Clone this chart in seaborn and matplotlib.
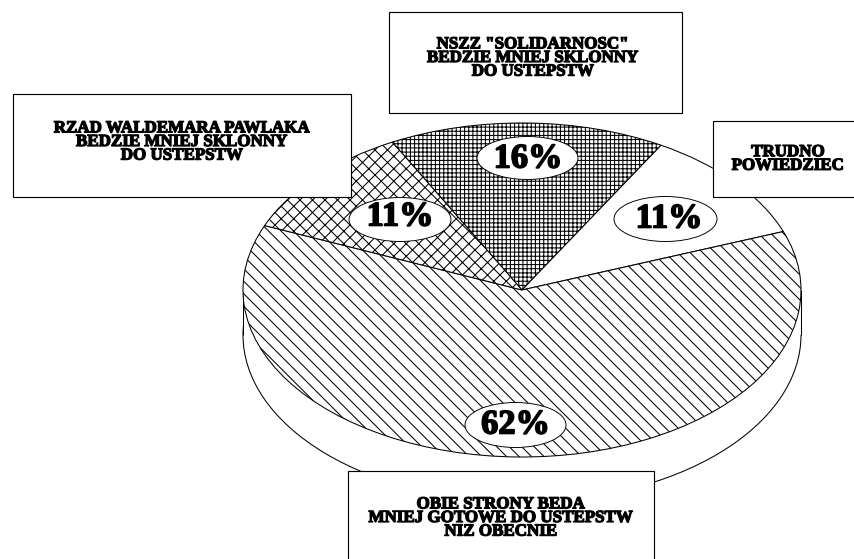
import matplotlib
matplotlib.use("Agg")
import matplotlib.pyplot as plt
import matplotlib.patheffects as pe
from matplotlib.patches import Ellipse, Rectangle
import seaborn as sns

# slices, clockwise from the top left edge
shares = [16, 11, 62, 11]
share_labels = ["16%", "11%", "62%", "11%"]
hatches = ["+++", "", "\\\\", "xx"]

box_labels = [
    'NSZZ "SOLIDARNOSC"\nBEDZIE MNIEJ SKLONNY\nDO USTEPSTW',
    "TRUDNO\nPOWIEDZIEC",
    "OBIE STRONY BEDA\nMNIEJ GOTOWE DO USTEPSTW\nNIZ OBECNIE",
    "RZAD WALDEMARA PAWLAKA\nBEDZIE MNIEJ SKLONNY\nDO USTEPSTW",
]

# layout in pixels of the 854x559 picture
W, H = 854, 559
DPI = 75
cx, cy, rx, ry, depth = 522, 290, 279, 167, 45
boxes = [(389, 12, 293, 101), (713, 121, 150, 76), (348, 471, 306, 100), (13, 94, 338, 103)]
text_xy = [(533, 58), (788, 159), (501, 518), (182, 142)]
ovals = [(527.5, 158, 101, 43), (665.5, 219, 103, 45), (515.5, 425, 101, 45), (400, 219.5, 102, 44)]
pct_xy = [(528, 159), (669, 219), (515.5, 425), (400, 217)]

sns.set_theme(style="white", rc={"hatch.linewidth": 1.0})
plt.rcParams["font.family"] = ["Liberation Serif", "DejaVu Serif"]

fig = plt.figure(figsize=(W / DPI, H / DPI), dpi=DPI, facecolor="white")
ax = fig.add_axes([0, 0, 1, 1])

# side wall of the disc first, the top goes over it
wedge_style = {"edgecolor": "black", "linewidth": 1.0}
side = depth / ry
ax.pie([1], center=(0, -side), radius=1, colors=["white"], wedgeprops=wedge_style)
ax.add_patch(Rectangle((-1, -side), 2, side, facecolor="white", edgecolor="none", zorder=2))
ax.vlines([-1, 1], -side, 0, color="black", linewidth=1.0, zorder=2)

wedges, _ = ax.pie(
    shares,
    startangle=117.7,
    counterclock=False,
    colors=["white"] * 4,
    hatch=hatches,
    wedgeprops=wedge_style,
)
for w in wedges:
    w.set_zorder(3)

ax.set_aspect("auto")
ax.set_xlim(-cx / rx, (W - cx) / rx)
ax.set_ylim((cy - H) / ry, cy / ry)
ax.axis("off")

# labels on top, in pixel coordinates
top = fig.add_axes([0, 0, 1, 1], facecolor="none")
top.set_xlim(0, W)
top.set_ylim(H, 0)
top.axis("off")

for (x, y, w, h), (tx, ty), label in zip(boxes, text_xy, box_labels):
    top.add_patch(Rectangle((x, y), w, h, facecolor="white", edgecolor="black", linewidth=1.1))
    top.text(tx, ty, label, ha="center", va="center", fontsize=16.3, fontweight="bold",
             linespacing=0.8, color="black",
             path_effects=[pe.withStroke(linewidth=1.2, foreground="black")])

for (x, y, w, h), (tx, ty), label in zip(ovals, pct_xy, share_labels):
    top.add_patch(Ellipse((x, y), w, h, facecolor="white", edgecolor="black", linewidth=0.9))
    top.text(tx, ty, label, ha="center", va="center", fontsize=33, fontweight="bold",
             color="black", path_effects=[pe.withStroke(linewidth=1.6, foreground="black")])

fig.savefig("out.png", dpi=DPI)
